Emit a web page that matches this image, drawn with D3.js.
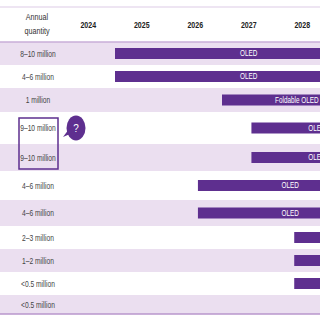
<!DOCTYPE html>
<html>
<head>
<meta charset="utf-8">
<script src="https://cdn.jsdelivr.net/npm/d3@7"></script>
<style>
  html, body { margin: 0; padding: 0; background: #fff; }
  svg { display: block; font-family: "Liberation Sans", Arial, sans-serif; }
</style>
</head>
<body>
<div id="chart"></div>
<script>
// 데이터
const years = [2024, 2025, 2026, 2027, 2028];
const quantities = ["8–10 million", "4–6 million", "1 million", "9–10 million", "9–10 million",
  "4–6 million", "4–6 million", "2–3 million", "1–2 million", "<0.5 million", "<0.5 million"];
const startYears = [2025, 2025, 2027, 2027.55, 2027.55, 2026.55, 2026.55, 2028.35, 2028.35, 2028.35, null];
const endYears = [2030, 2030, 2029.8, 2030, 2030, 2030, 2030, 2030, 2030, 2030, null];
const barLabels = ["OLED", "OLED", "Foldable OLED", "OLED", "OLED", "OLED", "OLED", "", "", "", ""];

// 레이아웃 (행 경계)
const width = 320, height = 320;
const rowEdges = [42, 65, 88, 112, 144, 171, 200, 226, 249, 272, 295, 314];
const purple = "#5e2f8f";
const shade = "#ebdff0";

const svg = d3.select("#chart").append("svg")
  .attr("width", width).attr("height", height);

const x = d3.scaleLinear().domain([2024, 2029]).range([61.5, 329]);
const rowIdx = d3.range(quantities.length);
const yTop = d3.scaleOrdinal().domain(rowIdx).range(rowEdges.slice(0, -1));
const yBot = d3.scaleOrdinal().domain(rowIdx).range(rowEdges.slice(1));
const mid = (i) => (yTop(i) + yBot(i)) / 2;

// 좁은 글꼴 흉내 (가로 압축)
function condense(sel, k = 0.8) {
  sel.each(function () {
    const len = this.getComputedTextLength();
    d3.select(this).attr("textLength", len * k).attr("lengthAdjust", "spacingAndGlyphs");
  });
}

// 줄무늬 배경
svg.selectAll(".shade")
  .data(rowIdx.filter((i) => i % 2 === 0))
  .enter().append("rect")
  .attr("class", "shade")
  .attr("x", 0).attr("width", width)
  .attr("y", (i) => yTop(i))
  .attr("height", (i) => yBot(i) - yTop(i))
  .attr("fill", shade);

// 선
svg.append("line").attr("x1", 0).attr("x2", width).attr("y1", 7).attr("y2", 7)
  .attr("stroke", "#ddcbe6").attr("stroke-width", 1);
svg.append("line").attr("x1", 0).attr("x2", width).attr("y1", 42).attr("y2", 42)
  .attr("stroke", "#c8aed8").attr("stroke-width", 1.5);
svg.append("line").attr("x1", 0).attr("x2", width).attr("y1", 314).attr("y2", 314)
  .attr("stroke", "#b996cc").attr("stroke-width", 1.5);

// 헤더
svg.selectAll(".head")
  .data(["Annual", "quantity"])
  .enter().append("text")
  .attr("class", "head")
  .attr("x", 37)
  .attr("y", (d, i) => 20 + i * 14)
  .attr("text-anchor", "middle")
  .attr("fill", "#333")
  .style("font-size", "9px")
  .text((d) => d)
  .call(condense, 0.8);

svg.selectAll(".year")
  .data(years)
  .enter().append("text")
  .attr("class", "year")
  .attr("x", (d) => x(d + 0.5))
  .attr("y", 28)
  .attr("text-anchor", "middle")
  .attr("fill", "#222")
  .style("font-size", "9px")
  .style("font-weight", "bold")
  .text((d) => d)
  .call(condense, 0.78);

// 수량 라벨
svg.selectAll(".qty")
  .data(quantities)
  .enter().append("text")
  .attr("class", "qty")
  .attr("x", 38)
  .attr("y", (d, i) => mid(i))
  .attr("dy", "0.35em")
  .attr("text-anchor", "middle")
  .attr("fill", "#444")
  .style("font-size", "9px")
  .text((d) => d)
  .call(condense, 0.74);

// 막대
const bars = rowIdx.filter((i) => startYears[i] !== null);
const barH = 11;
svg.selectAll(".bar")
  .data(bars)
  .enter().append("rect")
  .attr("class", "bar")
  .attr("x", (i) => x(startYears[i]))
  .attr("y", (i) => mid(i) - barH / 2)
  .attr("width", (i) => x(endYears[i]) - x(startYears[i]))
  .attr("height", barH)
  .attr("fill", purple);

svg.selectAll(".bar-label")
  .data(bars.filter((i) => barLabels[i]))
  .enter().append("text")
  .attr("class", "bar-label")
  .attr("x", (i) => (x(startYears[i]) + x(endYears[i])) / 2)
  .attr("y", (i) => mid(i))
  .attr("dy", "0.35em")
  .attr("text-anchor", "middle")
  .attr("fill", "#fff")
  .style("font-size", "8.5px")
  .text((i) => barLabels[i])
  .call(condense, 0.75);

// 강조 상자와 말풍선
svg.append("rect")
  .attr("x", 19).attr("y", yTop(3) + 6)
  .attr("width", 39).attr("height", yBot(4) - yTop(3) - 8)
  .attr("fill", "none").attr("stroke", purple).attr("stroke-width", 1.5);

const bx = 76, by = 128;
svg.append("path")
  .attr("d", `M${bx - 6},${by + 6} L${bx - 13},${by + 9} L${bx - 7},${by + 1} Z`)
  .attr("fill", purple);
svg.append("ellipse")
  .attr("cx", bx).attr("cy", by).attr("rx", 9.5).attr("ry", 12.5)
  .attr("fill", purple);
svg.append("text")
  .attr("x", bx).attr("y", by).attr("dy", "0.35em")
  .attr("text-anchor", "middle").attr("fill", "#fff")
  .style("font-size", "10px")
  .text("?");
</script>
</body>
</html>
